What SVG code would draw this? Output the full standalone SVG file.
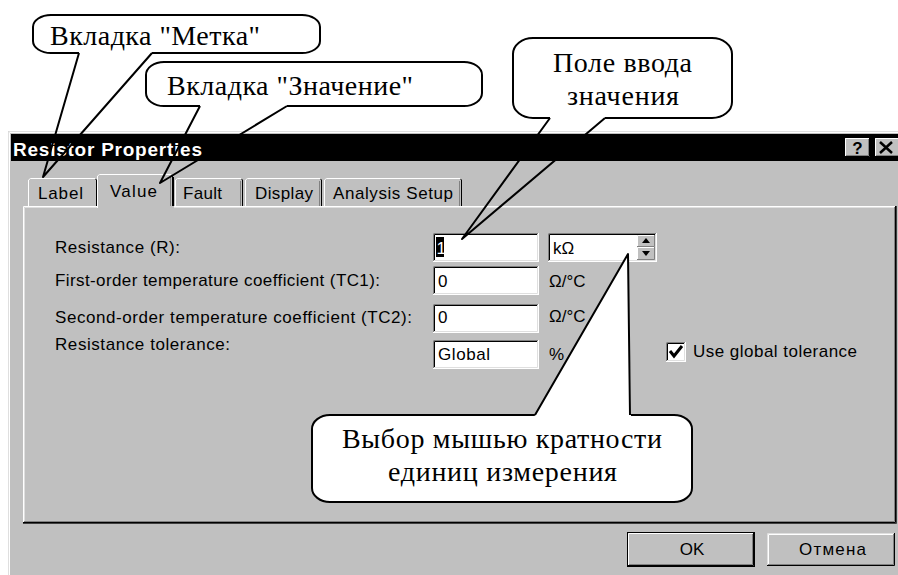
<svg xmlns="http://www.w3.org/2000/svg" width="898" height="575" viewBox="0 0 898 575">
<style>
.ui{font-family:"Liberation Sans",Arial,sans-serif;font-size:17px;fill:#000}
.co{font-family:"Liberation Serif","Times New Roman",serif;font-size:28px;fill:#000}
.hl{stroke:#fff;fill:none}
.hl2{stroke:#dfdfdf;fill:none}
.sh{stroke:#808080;fill:none}
.dk{stroke:#000;fill:none}
.cb{fill:#fff;stroke:none}
.cl{fill:none;stroke:#000;stroke-width:2;stroke-linejoin:round}
.face{fill:#c0c0c0}
</style>
<rect x="0" y="0" width="898" height="575" fill="#fff"/>

<g id="dialog">
  <rect x="8" y="131" width="892" height="446" class="face"/>
  <path d="M8.5,577 V131.5 H898" class="hl2"/>
  <path d="M9.5,577 V132.5 H898" class="hl"/>
  <rect x="11" y="134" width="887" height="27" fill="#000"/>
  <text x="13" y="156" font-family="'Liberation Sans',Arial,sans-serif" font-size="19" font-weight="bold" fill="#fff" textLength="189">Resistor Properties</text>
  <g id="btn-help">
    <rect x="845" y="138" width="25" height="19" class="face"/>
    <path d="M845.5,157 V138.5 H870" class="hl"/>
    <path d="M845,156.5 H869.5 V138" class="dk"/>
    <path d="M846,155.5 H868.5 V139" class="sh"/>
    <text x="857.5" y="154" text-anchor="middle" font-family="'Liberation Sans',Arial,sans-serif" font-size="17" font-weight="bold">?</text>
  </g>
  <g id="btn-close">
    <rect x="875" y="138" width="25" height="19" class="face"/>
    <path d="M875.5,157 V138.5 H898" class="hl"/>
    <path d="M875,156.5 H898" class="dk"/>
    <path d="M876,155.5 H898" class="sh"/>
    <path d="M880,142 L892,153 M892,142 L880,153" stroke="#000" stroke-width="2.5"/>
  </g>
</g>

<g id="tabs">
  <g id="tab-label">
    <rect x="28" y="178" width="69" height="28" class="face"/>
    <path d="M28.5,206 V180 L30.5,178.5 H95" class="hl"/>
    <path d="M95.5,179 L96.5,180 V206" class="dk"/>
    <text x="38" y="199" class="ui" textLength="45">Label</text>
  </g>
  <g id="tab-fault">
    <rect x="175" y="178" width="68" height="28" class="face"/>
    <path d="M175.5,206 V180 L177.5,178.5 H241" class="hl"/>
    <path d="M241.5,179 L242.5,180 V206" class="dk"/>
    <path d="M240.5,181 V206" class="sh"/>
    <text x="183" y="199" class="ui" textLength="39">Fault</text>
  </g>
  <g id="tab-display">
    <rect x="245" y="178" width="77" height="28" class="face"/>
    <path d="M245.5,206 V180 L247.5,178.5 H320" class="hl"/>
    <path d="M320.5,179 L321.5,180 V206" class="dk"/>
    <path d="M319.5,181 V206" class="sh"/>
    <text x="255" y="199" class="ui" textLength="58">Display</text>
  </g>
  <g id="tab-analysis">
    <rect x="324" y="178" width="138" height="28" class="face"/>
    <path d="M324.5,206 V180 L326.5,178.5 H460" class="hl"/>
    <path d="M460.5,179 L461.5,180 V206" class="dk"/>
    <path d="M459.5,181 V206" class="sh"/>
    <text x="333" y="199" class="ui" textLength="120">Analysis Setup</text>
  </g>
</g>

<g id="panel">
  <rect x="23" y="206" width="873" height="317" class="face"/>
  <path d="M23.5,523 V206.5 H895" class="hl"/>
  <path d="M24.5,522 V207.5 H894" class="hl2"/>
  <path d="M23,522.5 H895.5 V206" class="dk"/>
  <path d="M24,521.5 H894.5 V207" class="sh"/>
  <path d="M23,523.5 H896.5 V206" stroke="#404040" fill="none"/>
</g>

<g id="tab-value">
  <rect x="97" y="174" width="77" height="35" class="face"/>
  <path d="M97.5,208 V176 L99.5,174.5 H171" class="hl"/>
  <path d="M171.5,175 L172.5,176 V206" class="dk"/>
  <path d="M173.5,177 V206" class="dk"/>
  <path d="M170.5,177 V206" class="sh"/>
  <text x="110" y="197" class="ui" textLength="47">Value</text>
</g>

<g id="labels">
  <text x="55" y="253" class="ui" textLength="125">Resistance (R):</text>
  <text x="55" y="286" class="ui" textLength="325">First-order temperature coefficient (TC1):</text>
  <text x="55" y="323" class="ui" textLength="357">Second-order temperature coefficient (TC2):</text>
  <text x="55" y="350" class="ui" textLength="175">Resistance tolerance:</text>
</g>

<g id="field-resistance">
  <rect x="433" y="233" width="106" height="29" fill="#fff"/>
  <path d="M433.5,262 V233.5 H539" class="sh"/>
  <path d="M434.5,261 V234.5 H538" class="dk"/>
  <path d="M434,260.5 H537.5 V234" class="hl2"/>
  <path d="M433,261.5 H538.5 V233" class="hl"/>
  <rect x="436" y="237" width="8" height="20" fill="#000"/>
  <text x="436.5" y="254" class="ui" style="fill:#fff">1</text>
</g>

<g id="field-unit">
  <rect x="548" y="233" width="109" height="29" fill="#fff"/>
  <path d="M548.5,262 V233.5 H657" class="sh"/>
  <path d="M549.5,261 V234.5 H656" class="dk"/>
  <path d="M549,260.5 H655.5 V234" class="hl2"/>
  <path d="M548,261.5 H656.5 V233" class="hl"/>
  <text x="553" y="254" class="ui">kΩ</text>
  <g id="spin">
    <rect x="637" y="235" width="18" height="12" class="face"/>
    <path d="M637.5,247 V235.5 H655" class="hl"/>
    <path d="M637,246.5 H654.5 V235" class="sh"/>
    <path d="M642,243 L650,243 L646,238 Z" fill="#000"/>
    <rect x="637" y="247" width="18" height="13" class="face"/>
    <path d="M637.5,260 V247.5 H655" class="hl"/>
    <path d="M637,259.5 H654.5 V247" class="sh"/>
    <path d="M642,251 L650,251 L646,256 Z" fill="#000"/>
  </g>
</g>

<g id="field-tc1">
  <rect x="433" y="266" width="106" height="29" fill="#fff"/>
  <path d="M433.5,295 V266.5 H539" class="sh"/>
  <path d="M434.5,294 V267.5 H538" class="dk"/>
  <path d="M434,293.5 H537.5 V267" class="hl2"/>
  <path d="M433,294.5 H538.5 V266" class="hl"/>
  <text x="438" y="287" class="ui">0</text>
  <text x="549" y="287" class="ui">Ω/°C</text>
</g>

<g id="field-tc2">
  <rect x="433" y="304" width="106" height="29" fill="#fff"/>
  <path d="M433.5,333 V304.5 H539" class="sh"/>
  <path d="M434.5,332 V305.5 H538" class="dk"/>
  <path d="M434,331.5 H537.5 V305" class="hl2"/>
  <path d="M433,332.5 H538.5 V304" class="hl"/>
  <text x="438" y="323" class="ui">0</text>
  <text x="549" y="322" class="ui">Ω/°C</text>
</g>

<g id="field-tolerance">
  <rect x="433" y="340" width="106" height="29" fill="#fff"/>
  <path d="M433.5,369 V340.5 H539" class="sh"/>
  <path d="M434.5,368 V341.5 H538" class="dk"/>
  <path d="M434,367.5 H537.5 V341" class="hl2"/>
  <path d="M433,368.5 H538.5 V340" class="hl"/>
  <text x="438" y="360" class="ui" textLength="52">Global</text>
  <text x="549" y="360" class="ui">%</text>
</g>

<g id="checkbox-global">
  <rect x="666" y="342" width="20" height="20" fill="#fff"/>
  <path d="M666.5,362 V342.5 H686" class="sh"/>
  <path d="M667.5,361 V343.5 H685" class="dk"/>
  <path d="M667,360.5 H684.5 V343" class="hl2"/>
  <path d="M666,361.5 H685.5 V342" class="hl"/>
  <path d="M670,351 L674,356 L682,346" fill="none" stroke="#000" stroke-width="3"/>
  <text x="693" y="357" class="ui" textLength="164">Use global tolerance</text>
</g>

<g id="btn-ok">
  <rect x="627" y="532" width="128" height="35" class="face"/>
  <rect x="627.5" y="532.5" width="127" height="34" fill="none" stroke="#000"/>
  <path d="M628.5,565 V533.5 H753" class="hl"/>
  <path d="M628,565.5 H753.5 V533" class="dk"/>
  <path d="M629,564.5 H752.5 V534" class="sh"/>
  <text x="692" y="555" class="ui" text-anchor="middle">OK</text>
</g>

<g id="btn-cancel">
  <rect x="767" y="533" width="128" height="33" class="face"/>
  <path d="M767.5,566 V533.5 H895" class="hl2"/>
  <path d="M768.5,565 V534.5 H894" class="hl"/>
  <path d="M767,565.5 H894.5 V533" class="dk"/>
  <path d="M768,564.5 H893.5 V534" class="sh"/>
  <text x="799" y="555" class="ui" textLength="67">Отмена</text>
</g>

<g id="callout-label">
  <rect x="33" y="15" width="287" height="38" rx="18" ry="12" class="cb"/>
  <path d="M152,53 H302 A18,12 0 0 0 320,41 V27 A18,12 0 0 0 302,15 H51 A18,12 0 0 0 33,27 V41 A18,12 0 0 0 51,53 H79" class="cl"/>
  <text x="50" y="45" class="co" textLength="210">Вкладка "Метка"</text>
</g>

<g id="callout-value">
  <rect x="146" y="62" width="336" height="44" rx="18" ry="13" class="cb"/>
  <path d="M287,106 H464 A18,13 0 0 0 482,93 V75 A18,13 0 0 0 464,62 H164 A18,13 0 0 0 146,75 V93 A18,13 0 0 0 164,106 H200" class="cl"/>
  <text x="167" y="95" class="co" textLength="246">Вкладка "Значение"</text>
</g>

<g id="callout-field">
  <rect x="513" y="38" width="219" height="80" rx="20" ry="16" class="cb"/>
  <path d="M605,118 H712 A20,16 0 0 0 732,102 V54 A20,16 0 0 0 712,38 H533 A20,16 0 0 0 513,54 V102 A20,16 0 0 0 533,118 H550" class="cl"/>
  <text x="553" y="72" class="co" textLength="139">Поле ввода</text>
  <text x="567" y="105" class="co" textLength="112">значения</text>
</g>

<g id="callout-unit">
  <rect x="312" y="415" width="380" height="87" rx="18" ry="14" class="cb"/>
  <path d="M535,415 H330 A18,14 0 0 0 312,429 V488 A18,14 0 0 0 330,502 H674 A18,14 0 0 0 692,488 V429 A18,14 0 0 0 674,415 H630" class="cl"/>
  <text x="342" y="448" class="co" textLength="320">Выбор мышью кратности</text>
  <text x="388" y="481" class="co" textLength="229">единиц измерения</text>
</g>

<g id="connectors">
  <polyline points="79,53 43,177 152,53" class="cl"/>
  <polyline points="200,106 160,183 287,106" class="cl"/>
  <polyline points="550,118 462,239 605,118" class="cl"/>
  <polygon points="534,417 628,254 631,417" class="cb"/>
  <polyline points="535,415 628,254 630,415" class="cl"/>
</g>
</svg>
